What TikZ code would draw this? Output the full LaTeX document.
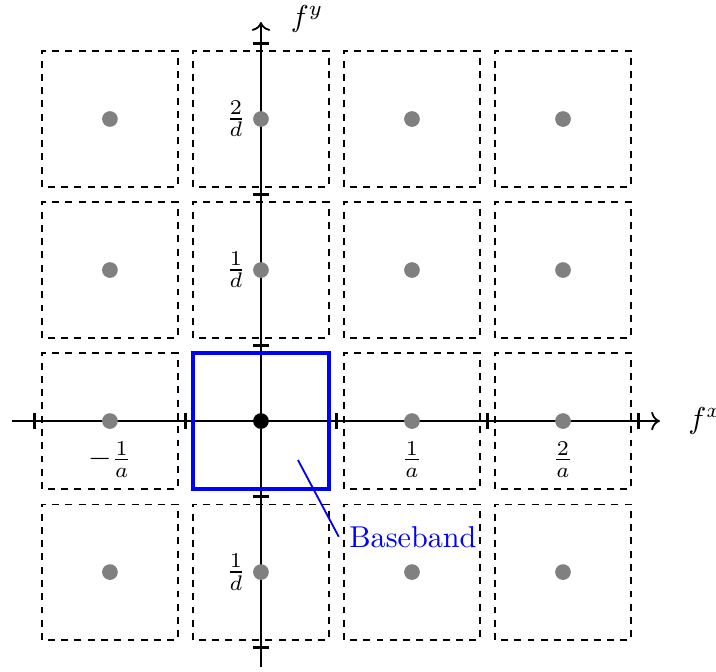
\documentclass[tikz,border=0pt]{standalone}
\usetikzlibrary{arrows.meta, positioning, calc}
\usepackage{xcolor}
\usepackage{amsmath}
\tikzset{
  cell/.style={draw, thin, dash pattern=on 2.3pt off 2.1pt},
  replica/.style={fill=#1},
  replica/.default=gray,
  axisline/.style={semithick, ->},
  tickmark/.style={thick},
  bandbox/.style={draw=blue, line width=1.1pt},
  lbl/.style={inner sep=2pt},
}

\begin{document}
\begin{tikzpicture}[x=1.76cm, y=1.76cm]
  \useasboundingbox (-1.728,-1.656) rectangle (3.013,2.788);

  % spectral replicas
  \foreach \i in {-1,0,1,2}
    \foreach \j in {-1,0,1,2}{
      \pgfmathtruncatemacro{\isorigin}{(\i==0)&&(\j==0)}
      \ifnum\isorigin=0
        \draw[cell] (\i-0.45,\j-0.45) rectangle (\i+0.45,\j+0.45);
      \fi
    }

  % axes
  \coordinate (xs) at (-1.65,0);
  \coordinate (xe) at (2.642,0);
  \coordinate (ys) at (0,-1.63);
  \coordinate (ye) at (0,2.642);
  \draw[axisline] (xs) -- (xe);
  \draw[axisline] (ys) -- (ye);
  \foreach \t in {-1.5,-0.5,0.5,1.5,2.5}{
    \draw[tickmark] (\t,-0.05) -- (\t,0.05);
    \draw[tickmark] (-0.05,\t) -- (0.05,\t);
  }
  \node[anchor=west] (fx) at (2.76,0) {$f^x$};
  \node (fy) at (0.305,2.66) {$f^y$};

  % baseband
  \draw[bandbox] (-0.45,-0.45) rectangle (0.45,0.45);
  \coordinate (bbtip) at (0.245,-0.258);
  \node[anchor=base west, text=blue] (bb) at (0.515,-0.834) {Baseband};
  \draw[blue, semithick] (bbtip) -- (bb.west);

  \foreach \i in {-1,0,1,2}
    \foreach \j in {-1,0,1,2}{
      \pgfmathtruncatemacro{\isorigin}{(\i==0)&&(\j==0)}
      \ifnum\isorigin=0
        \fill[replica] (\i,\j) circle (0.052);
      \fi
    }
  \fill[replica=black] (0,0) circle (0.052);

  % tick labels
  \node[lbl] (xm1) at (-1,-0.254) {$-\frac{1}{a}$};
  \node[lbl] (x1) at (1,-0.254) {$\frac{1}{a}$};
  \node[lbl] (x2) at (2,-0.254) {$\frac{2}{a}$};
  \node[lbl] (y2) at (-0.166,2) {$\frac{2}{d}$};
  \node[lbl] (y1) at (-0.166,1) {$\frac{1}{d}$};
  \node[lbl] (ym1) at (-0.166,-1) {$\frac{1}{d}$};
\end{tikzpicture}
\end{document}
